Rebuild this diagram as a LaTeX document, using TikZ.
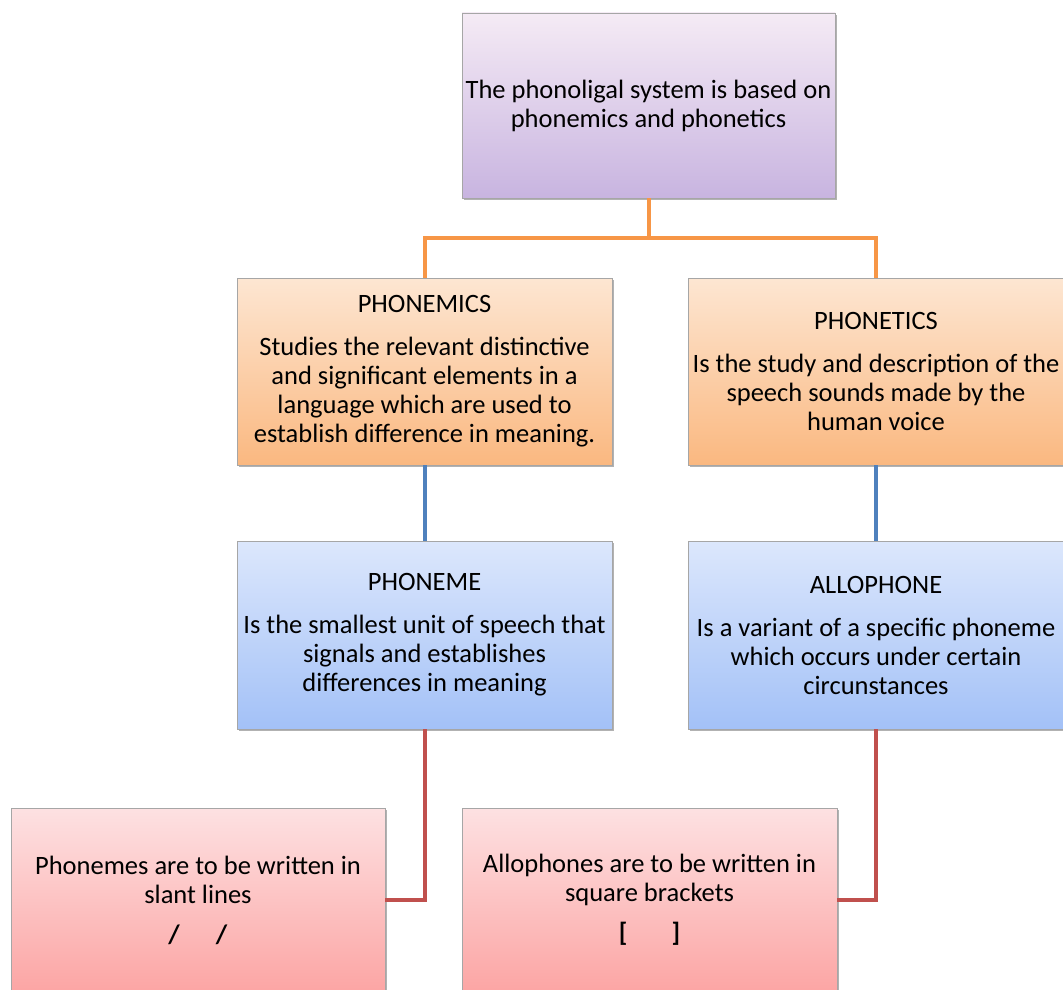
\documentclass[tikz,border=0pt]{standalone}
\usepackage{fontspec}
\setmainfont{Carlito}
\usetikzlibrary{shadings,shadows}

\definecolor{lineorange}{HTML}{F79646}
\definecolor{lineblue}{HTML}{4F81BD}
\definecolor{linered}{HTML}{C0504D}
\definecolor{edgegray}{HTML}{A6A6A6}

\tikzset{
  card/.style={draw=edgegray, line width=0.8pt, rectangle, align=center,
    inner sep=1pt, font=\fontsize{26.5}{29}\selectfont,
    drop shadow={shadow xshift=1.6pt, shadow yshift=-1.6pt, fill=black, opacity=0.3}},
  violetcard/.style={card, top color=violet!8!white, bottom color={rgb,255:red,200;green,180;blue,224}},
  orangecard/.style={card, top color={rgb,255:red,253;green,230;blue,210}, bottom color={rgb,255:red,250;green,184;blue,128}},
  bluecard/.style={card, top color={rgb,255:red,220;green,231;blue,252}, bottom color={rgb,255:red,163;green,193;blue,247}},
  pinkcard/.style={card, top color={rgb,255:red,253;green,225;blue,226}, bottom color={rgb,255:red,252;green,165;blue,164}},
  link/.style={line width=4pt},
}

\begin{document}
\begin{tikzpicture}[x=1pt, y=-1pt]
\clip (0,0) rectangle (1063,990);
\fill[white] (0,0) rectangle (1063,990);

% root
\node[violetcard, minimum width=373pt, minimum height=185pt] (sys) at (648.5,105.5)
  {The phonoligal system is based on\\phonemics and phonetics};

% second level
\node[orangecard, minimum width=375pt, minimum height=187pt] (phonemics) at (424.5,371.5)
  {PHONEMICS\\[14pt]Studies the relevant distinctive\\and significant elements in a\\language which are used to\\establish difference in meaning.};
\node[orangecard, minimum width=376pt, minimum height=187pt] (phonetics) at (876,371.5)
  {PHONETICS\\[14pt]Is the study and description of the\\speech sounds made by the\\human voice};

% third level
\node[bluecard, minimum width=375pt, minimum height=188pt] (phoneme) at (424.5,635)
  {PHONEME\\[14pt]Is the smallest unit of speech that\\signals and establishes\\differences in meaning};
\node[bluecard, minimum width=376pt, minimum height=188pt] (allophone) at (876,635)
  {ALLOPHONE\\[14pt]Is a variant of a specific phoneme\\which occurs under certain\\circunstances};

% notation boxes
\node[pinkcard, minimum width=374pt, minimum height=184pt] (slant) at (198,900)
  {Phonemes are to be written in\\slant lines\\[11pt]\textbf{/\hspace{36pt}/}};
\node[pinkcard, minimum width=375pt, minimum height=184pt] (square) at (649.5,900)
  {Allophones are to be written in\\square brackets\\[11pt]\textbf{[\hspace{44pt}]}};

% connectors
\draw[link, lineorange] (sys.south) -- ++(0,40) -| (phonemics.north);
\draw[link, lineorange] (sys.south) -- ++(0,40) -| (phonetics.north);
\draw[link, lineblue] (phonemics.south) -- (phoneme.north);
\draw[link, lineblue] (phonetics.south) -- (allophone.north);
\draw[link, linered] (phoneme.south) |- (slant.east);
\draw[link, linered] (allophone.south) |- (square.east);
\end{tikzpicture}
\end{document}
